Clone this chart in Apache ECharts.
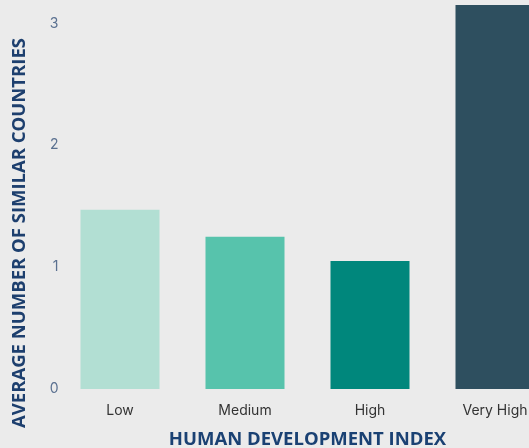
<!DOCTYPE html>
<html>
<head>
<meta charset="utf-8">
<script src="https://cdn.jsdelivr.net/npm/echarts@6/dist/echarts.min.js"></script>
<style>
    html, body { margin: 0; padding: 0; background: #ebebeb; }
    #chart { width: 529px; height: 448px; }
</style>
</head>
<body>
<div id="chart"></div>
<script>
    // data
    var categories = ['Low', 'Medium', 'High', 'Very High'];
    var values = [1.47, 1.25, 1.05, 3.15];
    var barColors = ['#b2dfd3', '#57c3ac', '#00877c', '#2e4f5f'];
    var yTicks = [0, 1, 2, 3];

    var myChart = echarts.init(document.getElementById('chart'));
    myChart.setOption({
        backgroundColor: '#ebebeb',
        animation: false,
        grid: { left: 57.5, top: -1, width: 500, bottom: 59, outerBoundsMode: 'none', containLabel: false },
        graphic: [{
            type: 'text',
            x: 20, y: 233,
            rotation: Math.PI / 2,
            style: {
                text: 'AVERAGE NUMBER OF SIMILAR COUNTRIES',
                fill: '#1d3f6e',
                font: 'bold 18.5px "Open Sans"',
                align: 'center',
                verticalAlign: 'middle'
            }
        }],
        xAxis: {
            type: 'category',
            data: categories,
            name: 'HUMAN DEVELOPMENT INDEX',
            nameLocation: 'middle',
            nameGap: 41,
            nameTextStyle: { color: '#1a4173', fontSize: 18.5, fontWeight: 'bold', fontFamily: 'Open Sans' },
            axisLine: { show: false },
            axisTick: { show: false },
            axisLabel: { color: '#333', fontSize: 14, margin: 15, fontFamily: 'Inter' }
        },
        yAxis: {
            type: 'value',
            min: 0,
            max: 3.2,
            interval: 1,
            splitLine: { show: false },
            axisLine: { show: false },
            axisLabel: {
                color: '#5a7090', fontSize: 14, margin: -1, fontFamily: 'Inter',
                formatter: function (v) { return yTicks.indexOf(v) >= 0 ? String(v) : ''; }
            }
        },
        series: [{
            type: 'bar',
            barWidth: 79,
            data: values.map(function (v, i) {
                return { value: v, itemStyle: { color: barColors[i] } };
            })
        }]
    });
</script>
</body>
</html>
